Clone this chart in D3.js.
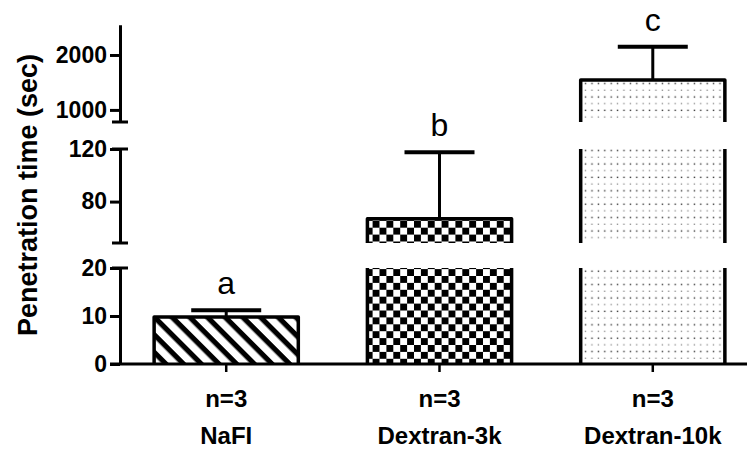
<!DOCTYPE html>
<html>
<head>
<meta charset="utf-8">
<script src="https://cdn.jsdelivr.net/npm/d3@7/dist/d3.min.js"></script>
<style>
  html, body { margin: 0; padding: 0; background: #fff; }
  svg { display: block; font-family: "Liberation Sans", Arial, sans-serif; }
</style>
</head>
<body>
<svg id="chart" width="747" height="450"></svg>
<script>
// ---- data ----
const categories = ["NaFI", "Dextran-3k", "Dextran-10k"];
const nLabels = ["n=3", "n=3", "n=3"];
const meanValues = [9.8, 67, 1545];
const semValues = [1.4, 50.5, 605];
const sigLetters = ["a", "b", "c"];
const patterns = ["stripes", "checker", "dots"];
// broken y axis: three segments (bottom, middle, top)
const segDomains = [[0, 20], [48.5, 120], [780, 2550]];
const segTicks = [[0, 10, 20], [80, 120], [1000, 2000]];
const yTitle = "Penetration time (sec)";

// ---- layout ----
const svg = d3.select("#chart");
const axisX = 120, baseY = 364;
const segRanges = [[364, 268], [243, 149], [122, 24.75]];
const segScales = segDomains.map((d, i) => d3.scaleLinear().domain(d).range(segRanges[i]));

const x = d3.scaleBand().domain(categories).range([120, 759]).paddingInner(0.324).paddingOuter(0.16);
const bw = x.bandwidth();

// patterns
const defs = svg.append("defs");
const pS = defs.append("pattern").attr("id", "stripes").attr("patternUnits", "userSpaceOnUse")
  .attr("width", 12.5).attr("height", 12.5).attr("patternTransform", "rotate(45)");
pS.append("rect").attr("width", 12.5).attr("height", 12.5).attr("fill", "#fff");
pS.append("rect").attr("width", 12.5).attr("height", 5.2).attr("fill", "#000");
const pC = defs.append("pattern").attr("id", "checker").attr("patternUnits", "userSpaceOnUse")
  .attr("width", 13.8).attr("height", 13.8);
pC.append("rect").attr("width", 13.8).attr("height", 13.8).attr("fill", "#fff");
pC.append("rect").attr("width", 6.9).attr("height", 6.9).attr("fill", "#000");
pC.append("rect").attr("x", 6.9).attr("y", 6.9).attr("width", 6.9).attr("height", 6.9).attr("fill", "#000");
const pD = defs.append("pattern").attr("id", "dots").attr("patternUnits", "userSpaceOnUse")
  .attr("width", 6.4).attr("height", 13.4);
pD.append("rect").attr("width", 6.4).attr("height", 13.4).attr("fill", "#fff");
pD.append("rect").attr("x", 2.5).attr("y", 2.5).attr("width", 1.4).attr("height", 1.4).attr("fill", "#333");
pD.append("rect").attr("x", 2.5).attr("y", 9.2).attr("width", 1.3).attr("height", 1.3).attr("fill", "#888");

function segIndex(v) {
  for (let i = 0; i < segDomains.length; i++) {
    if (v >= segDomains[i][0] && v <= segDomains[i][1]) return i;
  }
  return segDomains.length - 1;
}

// ---- bars ----
categories.forEach((c, k) => {
  const m = meanValues[k];
  const x0 = x(c), x1 = x(c) + bw;
  segDomains.forEach((d, i) => {
    if (m < d[0]) return;
    const s = segScales[i];
    const topVal = Math.min(m, d[1]);
    const yTop = s(topVal), yBot = s(d[0]);
    svg.append("rect").attr("x", x0).attr("y", yTop).attr("width", bw).attr("height", yBot - yTop)
      .attr("fill", `url(#${patterns[k]})`);
    const hasTop = m <= d[1];
    const p = hasTop
      ? `M${x0},${yBot}V${yTop}H${x1}V${yBot}`
      : `M${x0},${yBot}V${yTop}M${x1},${yTop}V${yBot}`;
    svg.append("path").attr("d", p).attr("fill", "none").attr("stroke", "#000")
      .attr("stroke-width", 3.5).attr("stroke-linejoin", "round");
  });
  // error bar
  const si = segIndex(m);
  const s = segScales[si];
  const cx = x(c) + bw / 2;
  const yM = s(m), yE = s(m + semValues[k]);
  svg.append("line").attr("x1", cx).attr("x2", cx).attr("y1", yM).attr("y2", yE)
    .attr("stroke", "#000").attr("stroke-width", 3);
  svg.append("line").attr("x1", cx - 35).attr("x2", cx + 35).attr("y1", yE).attr("y2", yE)
    .attr("stroke", "#000").attr("stroke-width", 4);
  svg.append("text").attr("x", cx).attr("y", yE - 16).attr("text-anchor", "middle")
    .attr("font-size", 32).attr("fill", "#000").text(sigLetters[k]);
});

// ---- y axis segments ----
segScales.forEach((s, i) => {
  const g = svg.append("g").attr("transform", `translate(${axisX},0)`)
    .call(d3.axisLeft(s).tickValues(segTicks[i]).tickSize(10).tickSizeOuter(0).tickPadding(3).tickFormat(d3.format("d")));
  g.select(".domain").attr("stroke", "#000").attr("stroke-width", 3);
  g.selectAll(".tick line").attr("stroke", "#000").attr("stroke-width", 3);
  g.selectAll(".tick text").attr("font-size", 23).attr("font-weight", "bold")
    .attr("font-family", "'Liberation Sans', Arial, sans-serif").attr("fill", "#000");
  // break caps
  const r = s.range();
  const ends = [];
  if (i > 0) ends.push(r[0]);
  if (i < segScales.length - 1) ends.push(r[1]);
  ends.forEach(y => {
    svg.append("line").attr("x1", axisX - 8).attr("x2", axisX + 8).attr("y1", y).attr("y2", y)
      .attr("stroke", "#000").attr("stroke-width", 3);
  });
});

// ---- x axis ----
svg.append("line").attr("x1", 110).attr("x2", 747).attr("y1", baseY).attr("y2", baseY)
  .attr("stroke", "#000").attr("stroke-width", 3);
const gx = svg.append("g").attr("transform", `translate(0,${baseY})`)
  .call(d3.axisBottom(x).tickSize(8).tickSizeOuter(0).tickFormat(() => ""));
gx.select(".domain").remove();
gx.selectAll(".tick line").attr("stroke", "#000").attr("stroke-width", 2.5);
gx.selectAll(".tick").each(function(d, i) {
  const t = d3.select(this);
  t.append("text").attr("y", 43).attr("text-anchor", "middle").attr("font-size", 24)
    .attr("font-weight", "bold").attr("fill", "#000").text(nLabels[i]);
  t.append("text").attr("y", 80).attr("text-anchor", "middle").attr("font-size", 24)
    .attr("font-weight", "bold").attr("fill", "#000").text(d);
});

// ---- y title ----
svg.append("text").attr("transform", "translate(37,195) rotate(-90)").attr("text-anchor", "middle")
  .attr("font-size", 27).attr("font-weight", "bold").attr("fill", "#000").text(yTitle);
</script>
</body>
</html>
